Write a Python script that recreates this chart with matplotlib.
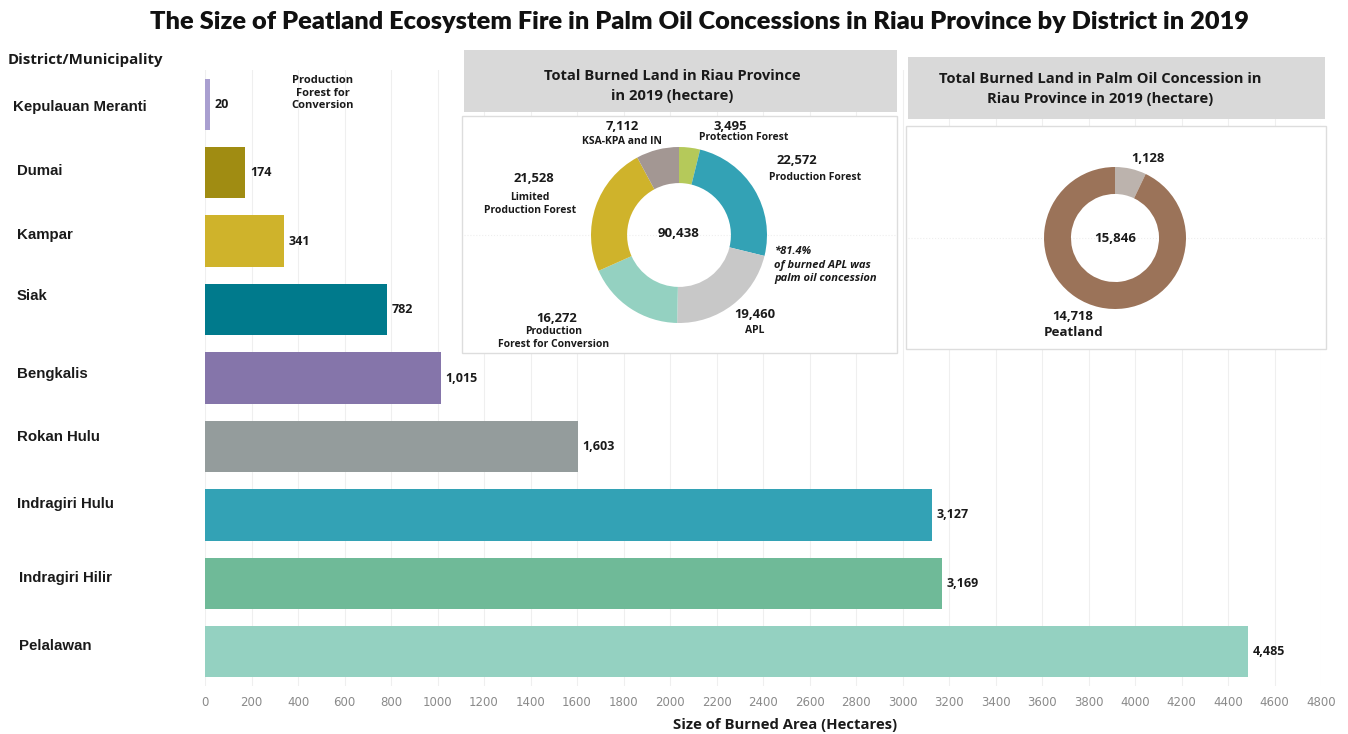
import matplotlib
matplotlib.use("Agg")
import matplotlib.pyplot as plt
from matplotlib.patches import Rectangle

W, H = 1348, 734

# District bars (hectares of burned peatland inside palm oil concessions)
districts = ["Kepulauan Meranti", "Dumai", "Kampar", "Siak", "Bengkalis",
             "Rokan Hulu", "Indragiri Hulu", "Indragiri Hilir", "Pelalawan"]
burned_area = [20, 174, 341, 782, 1015, 1603, 3127, 3169, 4485]
bar_colors = ["#a99fd0", "#a08c12", "#cfb32b", "#007a8c", "#8575aa",
              "#949c9c", "#33a2b5", "#6fba98", "#94d1c1"]
x_ticks = list(range(0, 4801, 200))

# Total burned land in Riau by land function (clockwise from top)
riau_classes = ["Protection Forest", "Production Forest", "APL",
                "Production\nForest for Conversion",
                "Limited\nProduction Forest", "KSA-KPA and IN"]
riau_values = [3495, 22572, 19460, 16272, 21528, 7112]
riau_colors = ["#b5c95a", "#33a2b5", "#c8c8c8", "#94d1c1", "#cfb32b", "#a39793"]
riau_total = 90438

# Burned land in palm oil concessions: non-peat vs peatland
conc_classes = ["", "Peatland"]
conc_values = [1128, 14718]
conc_colors = ["#bcb3ad", "#9b7359"]
conc_total = 15846

FONT = "Open Sans"
DARK = "#1a1a1a"

# pixel spots for the district names down the left margin
name_x = [13, 17, 17, 17, 17, 17, 17, 19, 19]
name_y = [107, 171, 235, 296, 374, 437, 504, 578, 646]


def px(x, y):
    return x / W, 1 - y / H


def box(x0, y0, x1, y1, **kw):
    fx, fy = px(x0, y1)
    fig.patches.append(Rectangle((fx, fy), (x1 - x0) / W, (y1 - y0) / H,
                                 transform=fig.transFigure, **kw))


def label(x, y, s, size=8, **kw):
    kw.setdefault("ha", "center")
    kw.setdefault("va", "center")
    kw.setdefault("weight", "bold")
    kw.setdefault("family", FONT)
    fig.text(*px(x, y), s, fontsize=size, color=DARK, **kw)


def donut(cx, cy, r, values, colors, width):
    ax = fig.add_axes([(cx - r) / W, 1 - (cy + r) / H, 2 * r / W, 2 * r / H])
    ax.set_zorder(2)
    ax.pie(values, colors=colors, startangle=90, counterclock=False,
           radius=1, wedgeprops=dict(width=width, edgecolor="none"))
    ax.set_xlim(-1, 1)
    ax.set_ylim(-1, 1)
    ax.axis("off")
    return ax


fig = plt.figure(figsize=(W / 100, H / 100), dpi=100)
fig.patch.set_facecolor("white")

# main bar chart
ax = fig.add_axes([205 / W, 1 - 686 / H, 1116 / W, 616 / H])
pos = list(range(len(districts)))
ax.barh(pos, burned_area, height=0.75, color=bar_colors, zorder=2)
ax.set_ylim(len(districts) - 0.5, -0.5)
ax.set_xlim(0, 4800)
ax.set_xticks(x_ticks)
ax.set_xticklabels([str(t) for t in x_ticks], fontsize=8.5, color="#8a8a8a",
                   family=["Liberation Sans Narrow", "DejaVu Sans"])
ax.tick_params(axis="x", length=0, pad=7)
ax.set_yticks([])
ax.grid(axis="x", color="#efefef", linewidth=0.8, zorder=0)
for s in ax.spines.values():
    s.set_visible(False)

for i, (name, v) in enumerate(zip(districts, burned_area)):
    ax.text(v + 20, i, f"{v:,}", va="center", ha="left", fontsize=9,
            weight="bold", family=FONT, color=DARK)
    label(name_x[i], name_y[i], name, size=10.8, ha="left",
          family="Liberation Sans")

label(8, 60, "District/Municipality", size=10.8, ha="left")
label(323, 93, "Production\nForest for\nConversion", size=8, linespacing=1.2)
label(785, 725, "Size of Burned Area (Hectares)", size=10.7)

fig.text(699 / W, 1 - 22 / H,
         "The Size of Peatland Ecosystem Fire in Palm Oil Concessions in Riau Province by District in 2019",
         ha="center", va="center", fontsize=18.3, weight="heavy", family="Lato",
         color="#111111")

# inset: total burned land in Riau
box(464, 50, 897, 112, facecolor="#d9d9d9", edgecolor="none", zorder=1)
box(462, 116, 897, 353, facecolor="white", edgecolor="#dddddd",
    linewidth=1, zorder=1)
label(672, 86, "Total Burned Land in Riau Province\nin 2019 (hectare)", size=10.6,
      linespacing=1.5)
fig.lines.append(plt.Line2D([464 / W, 895 / W], [1 - 235 / H] * 2,
                            transform=fig.transFigure, color="#eeeeee",
                            linewidth=0.8, linestyle=":", zorder=1.5))
donut(679, 235, 88, riau_values, riau_colors, 0.41)
label(679, 234, f"{riau_total:,}", size=9.5)

riau_spots = [(730, 744, 126, 137), (797, 815, 161, 177), (755, 755, 314, 331),
              (557, 554, 318, 338), (534, 530, 178, 204), (622, 622, 126, 142)]
for name, v, (vx, nx, vy, ny) in zip(riau_classes, riau_values, riau_spots):
    label(vx, vy, f"{v:,}", size=9.4)
    label(nx, ny, name, size=7.5, linespacing=1.35)
label(774, 265, "*81.4%\nof burned APL was\npalm oil concession", size=8,
      ha="left", style="italic", linespacing=1.3)

# inset: burned land in palm oil concessions
box(908, 57, 1325, 119, facecolor="#d9d9d9", edgecolor="none", zorder=1)
box(906, 126, 1326, 349, facecolor="white", edgecolor="#dddddd",
    linewidth=1, zorder=1)
label(1100, 89, "Total Burned Land in Palm Oil Concession in\nRiau Province in 2019 (hectare)",
      size=10.6, linespacing=1.5)
fig.lines.append(plt.Line2D([908 / W, 1324 / W], [1 - 238 / H] * 2,
                            transform=fig.transFigure, color="#eeeeee",
                            linewidth=0.8, linestyle=":", zorder=1.5))
donut(1115, 238, 71, conc_values, conc_colors, 0.38)
label(1115, 238, f"{conc_total:,}", size=9.5)
label(1148, 158, f"{conc_values[0]:,}", size=9.4)
label(1073, 317, f"{conc_values[1]:,}", size=9.4)
label(1074, 333, conc_classes[1], size=9.6)

fig.savefig("out.png", dpi=100)
